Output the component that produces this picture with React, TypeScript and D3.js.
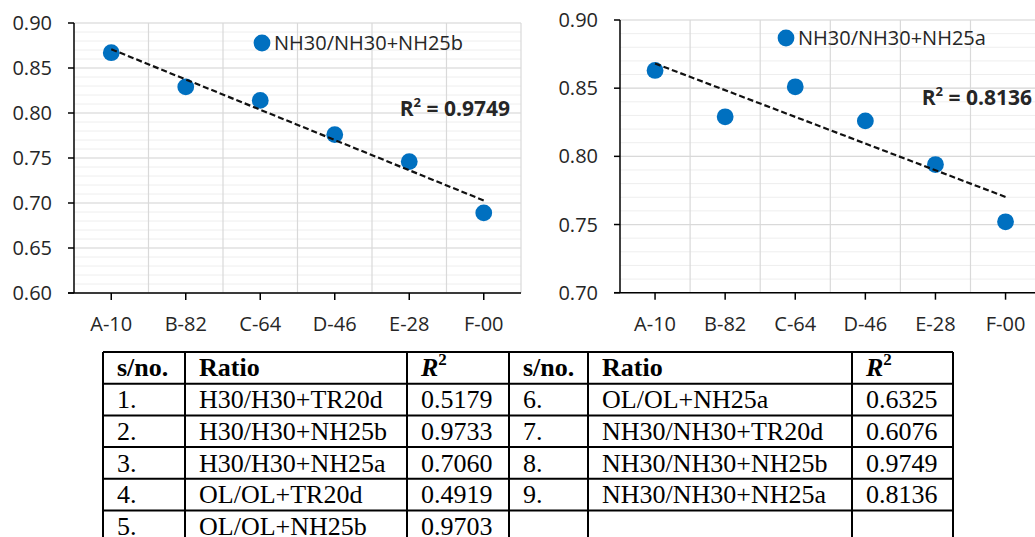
import * as d3 from 'd3';
import React, { useEffect } from 'react';

// chart data
const categories = ['A-10', 'B-82', 'C-64', 'D-46', 'E-28', 'F-00'];
const seriesNH25b = [0.867, 0.829, 0.814, 0.776, 0.746, 0.689];
const seriesNH25a = [0.863, 0.829, 0.851, 0.826, 0.794, 0.752];
const nameNH25b = 'NH30/NH30+NH25b';
const nameNH25a = 'NH30/NH30+NH25a';
const r2NH25b = '0.9749';
const r2NH25a = '0.8136';

// table
const tableHeader = ['s/no.', 'Ratio', 'R2', 's/no.', 'Ratio', 'R2'];
const leftNo = ['1.', '2.', '3.', '4.', '5.'];
const leftRatio = ['H30/H30+TR20d', 'H30/H30+NH25b', 'H30/H30+NH25a', 'OL/OL+TR20d', 'OL/OL+NH25b'];
const leftR2 = ['0.5179', '0.9733', '0.7060', '0.4919', '0.9703'];
const rightNo = ['6.', '7.', '8.', '9.', ''];
const rightRatio = ['OL/OL+NH25a', 'NH30/NH30+TR20d', 'NH30/NH30+NH25b', 'NH30/NH30+NH25a', ''];
const rightR2 = ['0.6325', '0.6076', '0.9749', '0.8136', ''];

const BLUE = '#0070C0';
const FONT = '"Open Sans", sans-serif';
const SERIF = '"Liberation Serif", "Times New Roman", serif';

const Scatter = ({ values, name, r2, yMin, yMax, left, right, top, bottom, legend, r2Pos }) => {
  const x = d3.scaleBand().domain(categories).range([left, right]);
  const y = d3.scaleLinear().domain([yMin, yMax]).range([bottom, top]);
  const nMajor = Math.round((yMax - yMin) / 0.05);
  const majors = d3.range(nMajor + 1).map((i) => yMin + i * 0.05);
  const minors = d3.range(nMajor * 5 + 1).map((i) => yMin + i * 0.01);
  const fmt = d3.format('.2f');
  const cx = (i) => x(categories[i]) + x.bandwidth() / 2;

  // linear trend (least squares on 1..n)
  const xs = values.map((_, i) => i + 1);
  const mx = d3.mean(xs);
  const my = d3.mean(values);
  const slope = d3.sum(xs, (v, i) => (v - mx) * (values[i] - my)) / d3.sum(xs, (v) => (v - mx) ** 2);
  const trend = (xv) => my + slope * (xv - mx);
  const n = values.length;

  return (
    <g>
      {minors.map((v, i) => (
        <line key={'mi' + i} x1={left} x2={right} y1={y(v)} y2={y(v)} stroke="#eeeeee" strokeWidth={1} />
      ))}
      {majors.map((v, i) => (
        <line key={'ma' + i} x1={left} x2={right} y1={y(v)} y2={y(v)} stroke="#d9d9d9" strokeWidth={1.2} />
      ))}
      {categories.map((c, i) => (
        <line key={'vg' + i} x1={x(c) + x.bandwidth()} x2={x(c) + x.bandwidth()} y1={top} y2={bottom} stroke="#d9d9d9" strokeWidth={1.2} />
      ))}
      {/* axes */}
      <line x1={left} x2={left} y1={top} y2={bottom} stroke="#000" strokeWidth={1.5} />
      <line x1={left - 6} x2={right} y1={bottom} y2={bottom} stroke="#000" strokeWidth={1.5} />
      {majors.map((v, i) => (
        <g key={'yt' + i}>
          <line x1={left - 6} x2={left} y1={y(v)} y2={y(v)} stroke="#000" strokeWidth={1.5} />
          <text x={left - 22} y={y(v)} dy="0.35em" textAnchor="end" fontFamily={FONT} fontSize={20} fill="#262626">
            {fmt(v)}
          </text>
        </g>
      ))}
      {categories.map((c, i) => (
        <g key={'xt' + i}>
          <line x1={cx(i)} x2={cx(i)} y1={bottom} y2={bottom + 7} stroke="#000" strokeWidth={1.5} />
          <text x={cx(i)} y={bottom + 38} textAnchor="middle" fontFamily={FONT} fontSize={20} fill="#262626">
            {c}
          </text>
        </g>
      ))}
      {/* points */}
      {values.map((v, i) => (
        <circle key={'p' + i} cx={cx(i)} cy={y(v)} r={8.4} fill={BLUE} />
      ))}
      {/* trendline */}
      <line x1={cx(0)} y1={y(trend(1))} x2={cx(n - 1)} y2={y(trend(n))} stroke="#111" strokeWidth={2.2} strokeDasharray="6,3" />
      {/* legend */}
      <circle cx={legend[0]} cy={legend[1]} r={8.4} fill={BLUE} />
      <text x={legend[0] + 12} y={legend[1]} dy="0.35em" fontFamily={FONT} fontSize={20} fill="#262626">
        {name}
      </text>
      <text x={r2Pos[0]} y={r2Pos[1]} textAnchor="end" fontFamily={FONT} fontSize={21} fontWeight="bold" fill="#262626">
        R<tspan fontSize={13} dy={-9}>2</tspan>
        <tspan dy={9}> = {r2}</tspan>
      </text>
    </g>
  );
};

const Table = () => {
  const cols = [103, 185, 407, 509, 588, 852, 953];
  const top = 352;
  const rowH = 31.7;
  const nRows = leftNo.length + 1;
  const pad = 14;
  const rows = leftNo.map((d, i) => [d, leftRatio[i], leftR2[i], rightNo[i], rightRatio[i], rightR2[i]]);
  return (
    <g fontFamily={SERIF} fontSize={26} fill="#000">
      {d3.range(nRows + 1).map((r) => (
        <line key={'h' + r} x1={cols[0]} x2={cols[cols.length - 1]} y1={top + r * rowH} y2={top + r * rowH} stroke="#000" strokeWidth={2} />
      ))}
      {cols.map((c, i) => (
        <line key={'v' + i} x1={c} x2={c} y1={top} y2={top + nRows * rowH} stroke="#000" strokeWidth={2} />
      ))}
      {tableHeader.map((h, i) =>
        h === 'R2' ? (
          <text key={'th' + i} x={cols[i] + pad} y={top + 24.4} fontWeight="bold" fontStyle="italic">
            R<tspan fontSize={17} dy={-11} fontStyle="normal">2</tspan>
          </text>
        ) : (
          <text key={'th' + i} x={cols[i] + pad} y={top + 24.4} fontWeight="bold">
            {h}
          </text>
        )
      )}
      {rows.map((row, r) =>
        row.map((cell, c) => (
          <text key={r + '-' + c} x={cols[c] + pad} y={top + (r + 1) * rowH + 24.4}>
            {cell}
          </text>
        ))
      )}
    </g>
  );
};

export default function App() {
  useEffect(() => {
    document.body.style.margin = '0';
  }, []);
  return (
    <svg width={1035} height={537} style={{ display: 'block', background: '#fff' }}>
      <Scatter
        values={seriesNH25b}
        name={nameNH25b}
        r2={r2NH25b}
        yMin={0.6}
        yMax={0.9}
        left={74}
        right={521}
        top={23}
        bottom={293}
        legend={[262, 43]}
        r2Pos={[510, 116]}
      />
      <Scatter
        values={seriesNH25a}
        name={nameNH25a}
        r2={r2NH25a}
        yMin={0.7}
        yMax={0.9}
        left={620}
        right={1040.6}
        top={20}
        bottom={292.7}
        legend={[786, 38]}
        r2Pos={[1032, 105]}
      />
      <Table />
    </svg>
  );
}
